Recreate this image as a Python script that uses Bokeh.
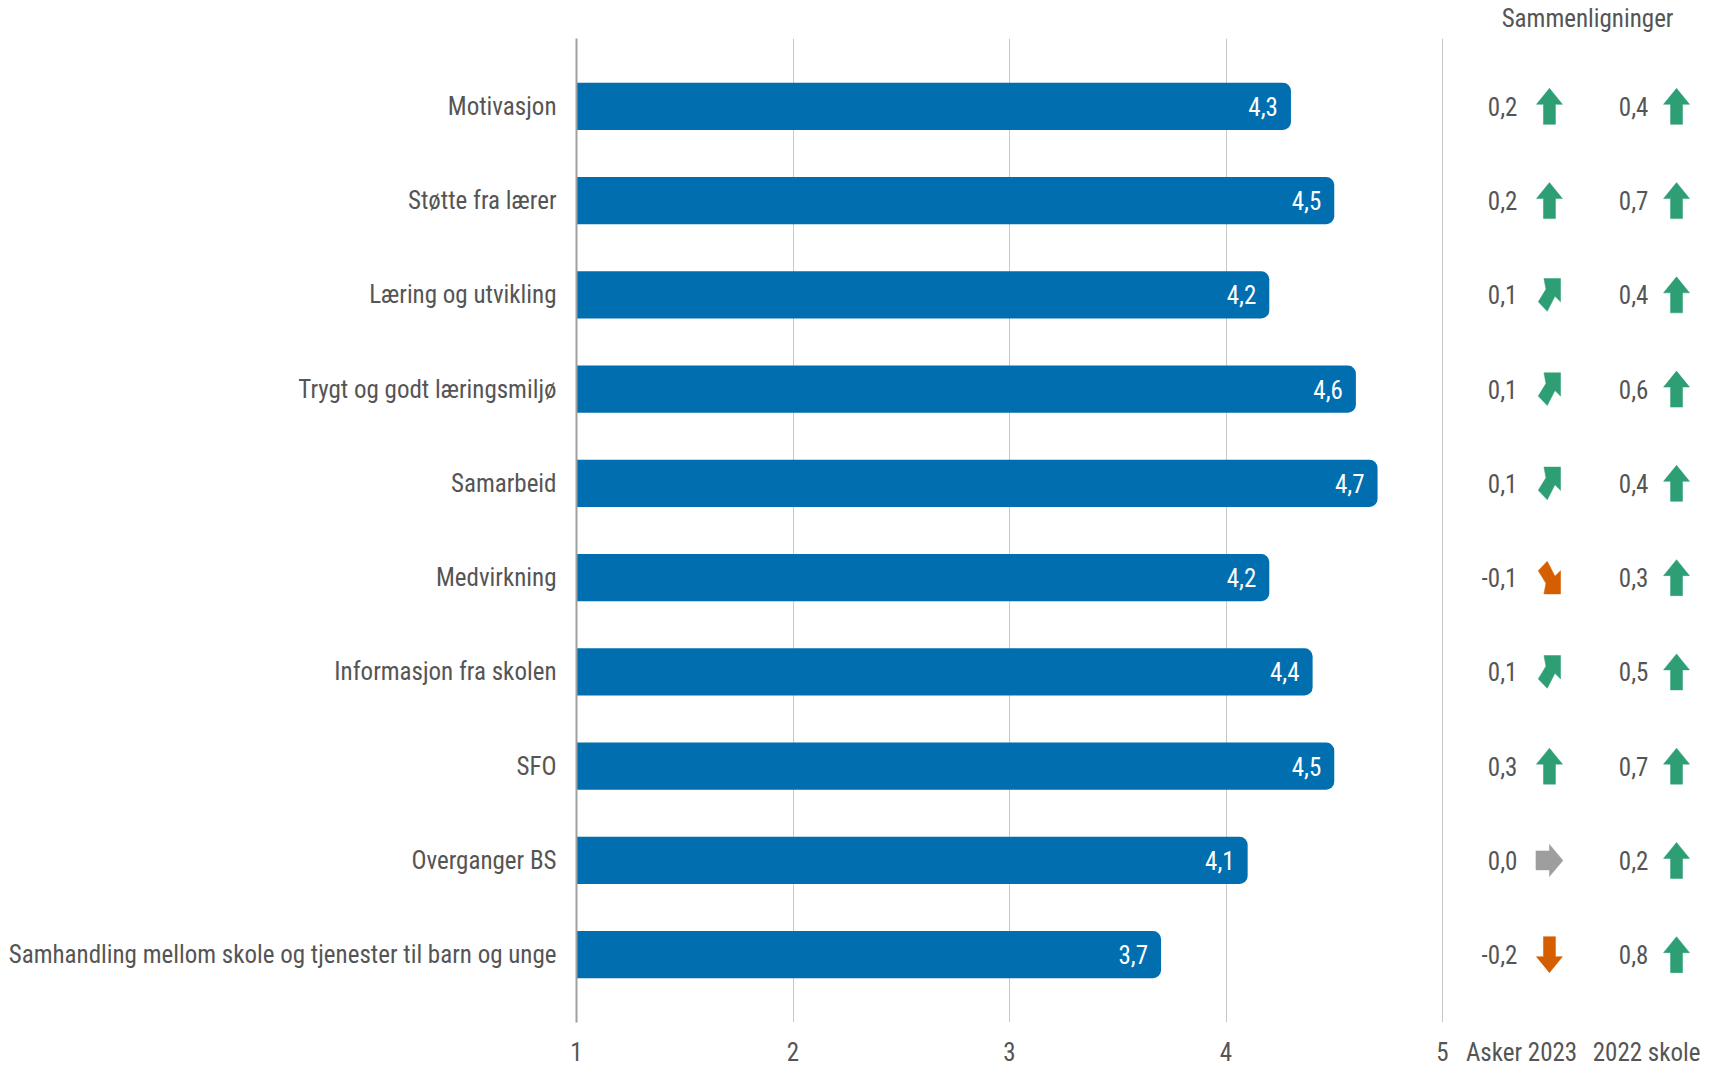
from bokeh.plotting import figure
from bokeh.models import Range1d, LinearAxis, FixedTicker, ColumnDataSource
from bokeh.core.properties import value
from bokeh.embed import file_html
from bokeh.resources import INLINE

categories = ["Motivasjon", "Støtte fra lærer", "Læring og utvikling",
              "Trygt og godt læringsmiljø", "Samarbeid", "Medvirkning",
              "Informasjon fra skolen", "SFO", "Overganger BS",
              "Samhandling mellom skole og tjenester til barn og unge"]
scores = [4.3, 4.5, 4.2, 4.6, 4.7, 4.2, 4.4, 4.5, 4.1, 3.7]
asker_2023 = [0.2, 0.2, 0.1, 0.1, 0.1, -0.1, 0.1, 0.3, 0.0, -0.2]
skole_2022 = [0.4, 0.7, 0.4, 0.6, 0.4, 0.3, 0.5, 0.7, 0.2, 0.8]
x_ticks = [1, 2, 3, 4, 5]
comp_labels = ["Asker 2023", "2022 skole"]
header = "Sammenligninger"

FONT = "Roboto Condensed, Liberation Sans Narrow, DejaVu Sans Condensed, Roboto"
TXT = "#555555"
BLUE = "#006EAF"
GREEN = "#2E9E74"
ORANGE = "#D55E00"
GREY = "#9E9E9E"

def fmt(v):
    return f"{v:.1f}".replace(".", ",")

# arrow icon outlines in pixels (y pointing up), centred on the cell
SHAPES = {
    "up": [(0, 18), (13, 2), (6, 2), (6, -18), (-6, -18), (-6, 2), (-13, 2)],
    "down": [(0, -18), (13, -2), (6, -2), (6, 18), (-6, 18), (-6, -2), (-13, -2)],
    "right": [(13.5, 0), (0, 16), (0, 9.5), (-13.5, 9.5), (-13.5, -9.5),
              (0, -9.5), (0, -16)],
    "upright": [(-5.5, 16.3), (11.1, 16.3), (11.1, -7), (5.5, -1.4),
                (-2.2, -16.4), (-11.2, -7), (-3.5, 5.6)],
    "downright": [(-5.5, -16.3), (11.1, -16.3), (11.1, 7), (5.5, 1.4),
                  (-2.2, 16.4), (-11.2, 7), (-3.5, -5.6)],
}

def direction(v):
    if v >= 0.15:
        return "up", GREEN
    if v >= 0.05:
        return "upright", GREEN
    if v > -0.05:
        return "right", GREY
    if v > -0.15:
        return "downright", ORANGE
    return "down", ORANGE

FW, FH = 1124, 984
LEFT, TOP = 576, 30
n = len(categories)
pad = 0.22
y_start, y_end = n - 0.5 + pad, -0.5 - pad
x_start = 1
x_end = 1 + FW / 216.5
ux = FW / (x_end - x_start)          # px per x unit
uy = FH / (y_start - y_end)          # px per y unit

ys = list(range(n))

# column positions (data units along x)
c1_val, c1_arr = 5.346, 5.494
c2_val, c2_arr = 5.951, 6.081
c1_lab, c2_lab = 5.365, 6.01

p = figure(frame_width=FW, frame_height=FH,
           x_range=Range1d(x_start, x_end), y_range=Range1d(y_start, y_end),
           output_backend="svg", toolbar_location=None,
           min_border_left=LEFT, min_border_right=0, min_border_top=TOP,
           min_border_bottom=0)
p.outline_line_color = None
p.background_fill_color = "white"

# bars
src = ColumnDataSource(dict(y=ys, score=scores, lab=[fmt(s) for s in scores]))
p.hbar(y="y", left=x_start, right="score", height=0.5, source=src,
       fill_color=BLUE, line_color=None, border_radius=(0, 8, 8, 0))
p.text(x="score", y="y", text="lab", source=src, text_color="white",
       text_font=value(FONT), text_font_size="25px", text_align="right",
       text_baseline="middle", x_offset=-13)

# comparison values
csrc = ColumnDataSource(dict(y=ys, a=[fmt(v) for v in asker_2023],
                             b=[fmt(v) for v in skole_2022]))
for xv, col in ((c1_val, "a"), (c2_val, "b")):
    p.text(x=xv, y="y", text=col, source=csrc, text_color=TXT,
           text_font=value(FONT), text_font_size="25px", text_align="right",
           text_baseline="middle")

# arrows
axs, ays, acs = [], [], []
for cx, vals in ((c1_arr, asker_2023), (c2_arr, skole_2022)):
    for yi, v in zip(ys, vals):
        key, colr = direction(v)
        axs.append([cx + px / ux for px, py in SHAPES[key]])
        ays.append([yi - py / uy for px, py in SHAPES[key]])
        acs.append(colr)
p.patches(xs=axs, ys=ays, fill_color=acs, line_color=acs, line_width=0.5)

# x axis (bottom)
xa = p.xaxis[0]
xa.ticker = FixedTicker(ticks=x_ticks + [c1_lab, c2_lab])
xa.major_label_overrides = {c1_lab: comp_labels[0], c2_lab: comp_labels[1]}
xa.axis_line_color = None
xa.major_tick_line_color = None
xa.minor_tick_line_color = None
xa.major_label_text_font = FONT
xa.major_label_text_font_size = "25px"
xa.major_label_text_color = TXT
xa.major_label_standoff = 9

# header axis (above)
hx = 5.67
ha = LinearAxis(ticker=FixedTicker(ticks=[hx]), major_label_overrides={hx: header})
ha.axis_line_color = None
ha.major_tick_line_color = None
ha.minor_tick_line_color = None
ha.major_label_text_font = FONT
ha.major_label_text_font_size = "25px"
ha.major_label_text_color = TXT
ha.major_label_standoff = 0
p.add_layout(ha, "above")

# y axis with category labels
ya = p.yaxis[0]
ya.ticker = FixedTicker(ticks=ys)
ya.major_label_overrides = {i: c for i, c in zip(ys, categories)}
ya.axis_line_color = "#A0A0A0"
ya.axis_line_width = 2
ya.major_tick_line_color = None
ya.minor_tick_line_color = None
ya.major_label_text_font = FONT
ya.major_label_text_font_size = "25px"
ya.major_label_text_color = TXT
ya.major_label_standoff = 14

p.xgrid.ticker = FixedTicker(ticks=x_ticks[1:])
p.xgrid.grid_line_color = "#C8C8C8"
p.xgrid.grid_line_width = 1
p.ygrid.grid_line_color = None

open("out.html", "w").write(file_html(p, INLINE))
